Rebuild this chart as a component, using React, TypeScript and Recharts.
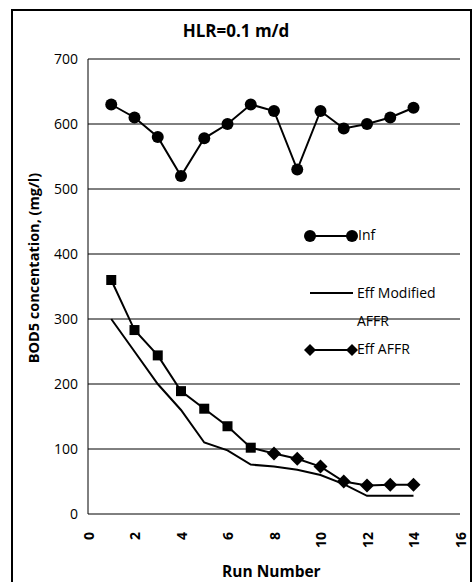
import { LineChart, Line, XAxis, YAxis, CartesianGrid } from "recharts";

const runs = [1, 2, 3, 4, 5, 6, 7, 8, 9, 10, 11, 12, 13, 14];
const inf = [630, 610, 580, 520, 578, 600, 630, 620, 530, 620, 593, 600, 610, 625];
const effModified = [300, 250, 200, 160, 110, 98, 76, 73, 68, 60, 46, 28, 28, 28];
const effAffr = [360, 283, 244, 189, 162, 135, 102, 93, 85, 73, 50, 44, 45, 45];
const xTicks = [0, 2, 4, 6, 8, 10, 12, 14, 16];
const yTicks = [0, 100, 200, 300, 400, 500, 600, 700];

const data = runs.map((r, i) => ({
  run: r,
  inf: inf[i],
  effModified: effModified[i],
  effAffr: effAffr[i],
}));

const FONT = "'Open Sans', 'Liberation Sans', sans-serif";

// first seven points of Eff AFFR look square in the original, rest are diamonds
const affrDot = (props: any) => {
  const { cx, cy, index } = props;
  if (cx == null || cy == null) return <g key={index} />;
  if (index < 7) {
    return <rect key={index} x={cx - 5} y={cy - 5} width={10} height={10} fill="#000" />;
  }
  return (
    <path
      key={index}
      d={`M${cx},${cy - 7} L${cx + 7},${cy} L${cx},${cy + 7} L${cx - 7},${cy} Z`}
      fill="#000"
    />
  );
};

const XTick = (p: any) => (
  <text
    x={p.x}
    y={p.y + 10}
    transform={`rotate(-90 ${p.x} ${p.y + 10})`}
    fontFamily={FONT}
    fontWeight="bold"
    fontSize={14}
    textAnchor="end"
    dominantBaseline="central"
    fill="#000"
  >
    {p.payload.value}
  </text>
);

const LegendBox = () => (
  <div
    style={{
      position: "absolute",
      left: 304,
      top: 220,
      width: 160,
      height: 150,
      fontFamily: FONT,
      fontSize: 14,
      color: "#000",
    }}
  >
    <svg width={60} height={150} style={{ position: "absolute", left: 0, top: 0 }}>
      <line x1={6} y1={16} x2={48} y2={16} stroke="#000" strokeWidth={2} />
      <circle cx={6} cy={16} r={6} fill="#000" />
      <circle cx={48} cy={16} r={6} fill="#000" />
      <line x1={6} y1={73} x2={49} y2={73} stroke="#000" strokeWidth={2} />
      <line x1={6} y1={130} x2={48} y2={130} stroke="#000" strokeWidth={2} />
      <path d="M6,124 L12,130 L6,136 L0,130 Z" fill="#000" />
      <path d="M48,124 L54,130 L48,136 L42,130 Z" fill="#000" />
    </svg>
    <div style={{ position: "absolute", left: 54, top: 5, lineHeight: "20px" }}>Inf</div>
    <div style={{ position: "absolute", left: 53, top: 59, lineHeight: "28px" }}>
      Eff Modified
      <br />
      AFFR
    </div>
    <div style={{ position: "absolute", left: 53, top: 119, lineHeight: "20px" }}>Eff AFFR</div>
  </div>
);

export default function App() {
  return (
    <div style={{ position: "absolute", left: 0, top: 0, width: 472, height: 582, background: "#fff", overflow: "hidden" }}>
      <LineChart
        width={472}
        height={582}
        data={data}
        margin={{ top: 59, right: 12, bottom: 28, left: 28 }}
        style={{ position: "absolute", left: 0, top: 0 }}
      >
        <CartesianGrid vertical={false} stroke="#000" strokeWidth={1} />
        <XAxis
          dataKey="run"
          type="number"
          domain={[0, 16]}
          ticks={xTicks}
          interval={0}
          axisLine={false}
          tickLine={false}
          height={40}
          tick={<XTick />}
        />
        <YAxis
          domain={[0, 700]}
          ticks={yTicks}
          interval={0}
          width={60}
          axisLine={{ stroke: "#000", strokeWidth: 1 }}
          tickLine={false}
          tick={{ fill: "#000", fontFamily: FONT, fontSize: 14 }}
          tickMargin={4}
        />
        <Line
          dataKey="inf"
          stroke="#000"
          strokeWidth={2}
          isAnimationActive={false}
          dot={{ r: 6, fill: "#000", stroke: "#000", strokeWidth: 0 }}
        />
        <Line
          dataKey="effModified"
          stroke="#000"
          strokeWidth={2}
          isAnimationActive={false}
          dot={false}
        />
        <Line
          dataKey="effAffr"
          stroke="#000"
          strokeWidth={2}
          isAnimationActive={false}
          dot={affrDot}
        />
      </LineChart>
      <LegendBox />
      <div
        style={{
          position: "absolute",
          left: 11,
          top: 9,
          width: 457,
          height: 590,
          borderLeft: "2px solid #000",
          borderTop: "2px solid #000",
          borderRight: "2px solid #000",
        }}
      />
      <div
        style={{
          position: "absolute",
          left: 0,
          top: 19,
          width: 472,
          textAlign: "center",
          fontFamily: FONT,
          fontWeight: "bold",
          fontSize: 17,
        }}
      >
        HLR=0.1 m/d
      </div>
      <div
        style={{
          position: "absolute",
          left: 33,
          top: 268,
          transform: "translate(-50%, -50%) rotate(-90deg)",
          whiteSpace: "nowrap",
          fontFamily: FONT,
          fontWeight: "bold",
          fontSize: 14.5,
        }}
      >
        BOD5 concentation, (mg/l)
      </div>
      <div
        style={{
          position: "absolute",
          left: 222,
          top: 560,
          whiteSpace: "nowrap",
          fontFamily: FONT,
          fontWeight: "bold",
          fontSize: 15.5,
        }}
      >
        Run Number
      </div>
    </div>
  );
}
